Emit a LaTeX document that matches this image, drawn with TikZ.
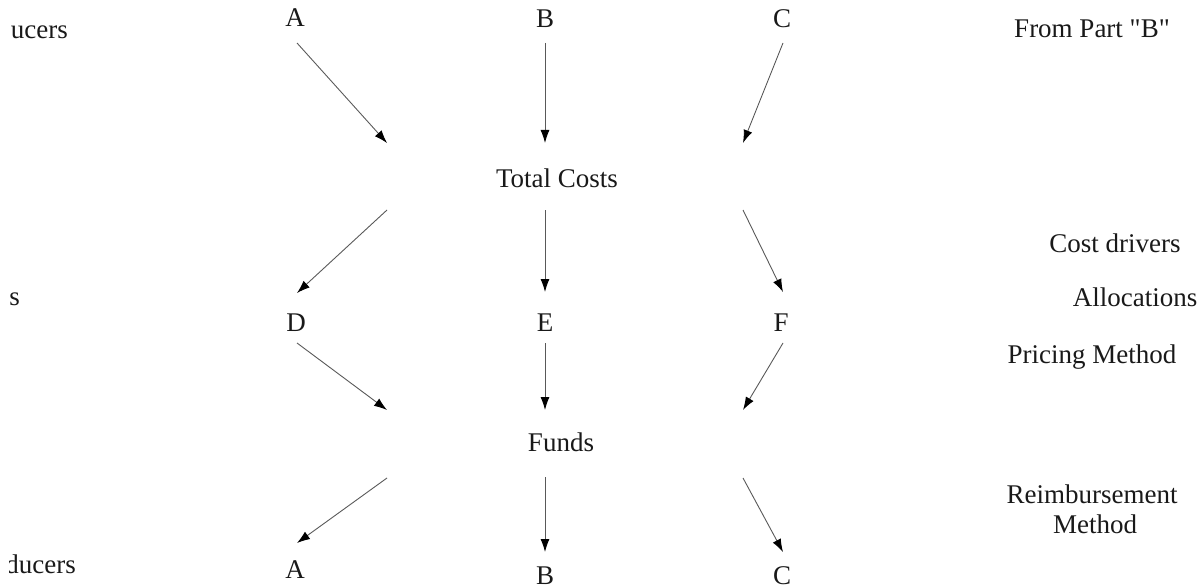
\documentclass[tikz,border=0pt]{standalone}
\usepackage{fontspec}
\setmainfont{Liberation Serif}
\usetikzlibrary{arrows.meta}
\tikzset{
  lbl/.style={font=\fontsize{27}{32}\selectfont, inner sep=0pt, anchor=base, text=black!90},
  lblr/.style={lbl, anchor=base east},
  arr/.style={draw=black!65, line width=0.9pt, -{Latex[length=13pt,width=9pt,black]}}
}
\begin{document}
\begin{tikzpicture}[x=1pt,y=-1pt]
\useasboundingbox (0,0) rectangle (1201,588);
\clip (9,0) rectangle (1201,588);
% top row
\node[lbl] (A1) at (295,27) {A};
\node[lbl] (B1) at (545,28) {B};
\node[lbl] (C1) at (782,28) {C};
\node[lbl] (TC) at (557,187) {Total Costs};
\node[lbl] (D) at (296,331) {D};
\node[lbl] (E) at (545,331) {E};
\node[lbl] (F) at (781,331) {F};
\node[lbl] (Funds) at (561,451) {Funds};
\node[lbl] (A2) at (295,578) {A};
\node[lbl] (B2) at (545,584) {B};
\node[lbl] (C2) at (782,584) {C};
% left labels
\node[lblr] (L1) at (68,39) {ucers};
\node[lblr] (L2) at (20,305) {s};
\node[lblr] (L3) at (76,573) {ducers};
% right labels
\node[lbl] (R1) at (1092,38) {From Part \textquotedbl B\textquotedbl};
\node[lbl] (R2) at (1115,252) {Cost drivers};
\node[lbl] (R3) at (1135,306) {Allocations};
\node[lbl] (R4) at (1092,363) {Pricing Method};
\node[lbl] (R5) at (1092,503) {Reimbursement};
\node[lbl] (R6) at (1095,533) {Method};
% arrows into Total Costs
\draw[arr] ([shift={(2,16)}]A1.base) -- ([shift={(-170,-44)}]TC.base);
\draw[arr] ([shift={(0,15)}]B1.base) -- ([shift={(-12,-44)}]TC.base);
\draw[arr] ([shift={(1,15)}]C1.base) -- ([shift={(186,-44)}]TC.base);
% Total Costs to D, E, F
\draw[arr] ([shift={(-170,23)}]TC.base) -- ([shift={(1,-38)}]D.base);
\draw[arr] ([shift={(-12,23)}]TC.base) -- ([shift={(0,-39)}]E.base);
\draw[arr] ([shift={(186,23)}]TC.base) -- ([shift={(2,-39)}]F.base);
% D, E, F to Funds
\draw[arr] ([shift={(1,12)}]D.base) -- ([shift={(-174,-41)}]Funds.base);
\draw[arr] ([shift={(0,12)}]E.base) -- ([shift={(-16,-41)}]Funds.base);
\draw[arr] ([shift={(2,12)}]F.base) -- ([shift={(182,-41)}]Funds.base);
% Funds to bottom row
\draw[arr] ([shift={(-174,27)}]Funds.base) -- ([shift={(2,-35)}]A2.base);
\draw[arr] ([shift={(-16,26)}]Funds.base) -- ([shift={(0,-32)}]B2.base);
\draw[arr] ([shift={(182,27)}]Funds.base) -- ([shift={(1,-32)}]C2.base);
\end{tikzpicture}
\end{document}
